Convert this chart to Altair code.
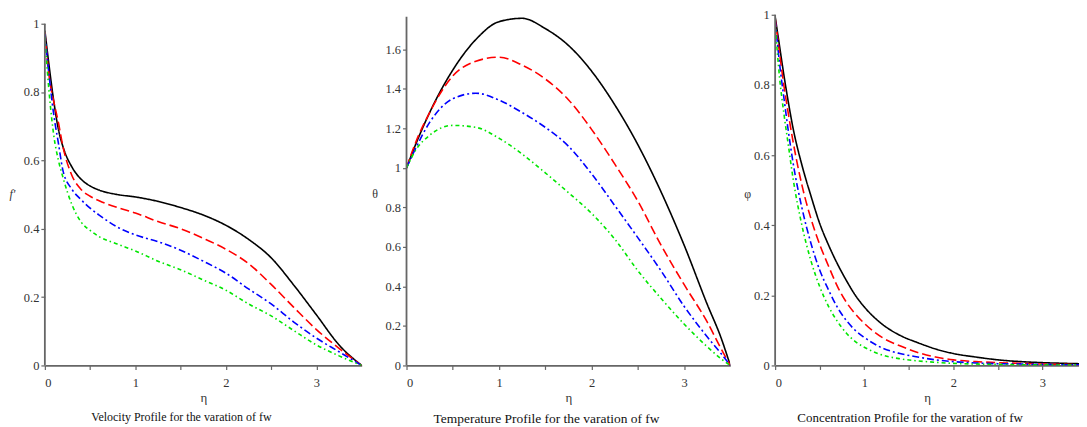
import altair as alt
import pandas as pd

SERIES = ["fw1", "fw2", "fw3", "fw4"]
COLORS = ["#000000", "#ff0000", "#0000ff", "#00e600"]
DASHES = [[1, 0], [9, 4], [7, 3, 2, 3], [4, 3, 1.5, 3]]

# Velocity profile f'
eta_v = [0, 0.05, 0.1, 0.15, 0.2, 0.3, 0.4, 0.5, 0.6, 0.8, 1.0, 1.25, 1.5, 1.75, 2.0, 2.25, 2.5, 2.75, 3.0, 3.25, 3.5]
vel_black = [0.98, 0.87, 0.77, 0.69, 0.64, 0.58, 0.545, 0.525, 0.513, 0.50, 0.493, 0.48, 0.462, 0.44, 0.41, 0.369, 0.315, 0.235, 0.148, 0.06, 0.0]
vel_red = [0.975, 0.84, 0.77, 0.71, 0.64, 0.555, 0.515, 0.495, 0.482, 0.462, 0.446, 0.421, 0.40, 0.372, 0.34, 0.298, 0.237, 0.17, 0.105, 0.05, 0.0]
vel_blue = [0.97, 0.84, 0.73, 0.65, 0.57, 0.515, 0.485, 0.46, 0.44, 0.405, 0.382, 0.362, 0.337, 0.305, 0.27, 0.224, 0.18, 0.127, 0.08, 0.04, 0.0]
vel_green = [0.96, 0.79, 0.67, 0.60, 0.55, 0.47, 0.42, 0.395, 0.377, 0.355, 0.335, 0.305, 0.28, 0.25, 0.22, 0.18, 0.145, 0.102, 0.06, 0.028, 0.0]

# Temperature profile theta
eta_t = [0, 0.1, 0.25, 0.5, 0.75, 1.0, 1.25, 1.5, 1.75, 2.0, 2.25, 2.5, 2.75, 3.0, 3.25, 3.4, 3.5]
tmp_black = [1.0, 1.12, 1.28, 1.495, 1.65, 1.74, 1.757, 1.705, 1.62, 1.49, 1.32, 1.118, 0.88, 0.61, 0.31, 0.14, 0.0]
tmp_red = [1.0, 1.13, 1.28, 1.465, 1.54, 1.56, 1.52, 1.45, 1.345, 1.195, 1.02, 0.832, 0.61, 0.41, 0.22, 0.085, 0.0]
tmp_blue = [1.0, 1.10, 1.23, 1.35, 1.378, 1.343, 1.28, 1.205, 1.11, 0.97, 0.81, 0.647, 0.48, 0.30, 0.145, 0.06, 0.0]
tmp_green = [1.0, 1.09, 1.165, 1.215, 1.205, 1.15, 1.07, 0.975, 0.875, 0.77, 0.64, 0.48, 0.34, 0.21, 0.095, 0.034, 0.0]

# Concentration profile phi
eta_c = [0, 0.05, 0.1, 0.15, 0.2, 0.3, 0.4, 0.5, 0.6, 0.7, 0.8, 0.9, 1.0, 1.2, 1.4, 1.6, 1.8, 2.0, 2.25, 2.5, 2.75, 3.0, 3.25, 3.41]
con_black = [0.995, 0.91, 0.825, 0.748, 0.678, 0.572, 0.485, 0.405, 0.343, 0.289, 0.242, 0.2, 0.167, 0.118, 0.086, 0.065, 0.047, 0.034, 0.024, 0.016, 0.011, 0.008, 0.006, 0.005]
con_red = [0.99, 0.89, 0.795, 0.715, 0.64, 0.515, 0.42, 0.345, 0.283, 0.225, 0.18, 0.147, 0.12, 0.08, 0.056, 0.037, 0.024, 0.016, 0.011, 0.008, 0.006, 0.004, 0.003, 0.002]
con_blue = [0.985, 0.86, 0.76, 0.665, 0.58, 0.45, 0.35, 0.272, 0.215, 0.165, 0.128, 0.1, 0.08, 0.05, 0.034, 0.024, 0.016, 0.011, 0.007, 0.005, 0.004, 0.003, 0.002, 0.002]
con_green = [0.975, 0.82, 0.715, 0.625, 0.535, 0.40, 0.30, 0.225, 0.168, 0.125, 0.092, 0.068, 0.052, 0.03, 0.019, 0.013, 0.009, 0.006, 0.004, 0.003, 0.002, 0.002, 0.001, 0.001]

CAPTIONS = [
    "Velocity Profile for the varation of fw",
    "Temperature Profile for the varation of fw",
    "Concentration Profile for the varation of fw",
]

FONT = "Liberation Serif"
AX = "#666666"
LAB = "#333333"
H = 352


def make_df(eta, cols):
    rows = []
    for s, ys in zip(SERIES, cols):
        for i, (e, v) in enumerate(zip(eta, ys)):
            rows.append({"eta": e, "v": v, "series": s, "i": i})
    return pd.DataFrame(rows)


def panel(eta, cols, ytitle, ytop, axis_top, yvals, xdom, xvals, width, caption, ytitle_x,
          italic=False, dx=-22, cap_size=12):
    df = make_df(eta, cols)
    yscale = alt.Scale(domain=[0, ytop], nice=False, zero=False)
    xscale = alt.Scale(domain=xdom, nice=False, zero=False)
    lines = alt.Chart(df).mark_line(strokeWidth=1.6, interpolate="monotone", clip=True).encode(
        x=alt.X("eta:Q", scale=xscale, axis=alt.Axis(
            values=xvals,
            labelExpr="datum.value % 1 == 0 ? format(datum.value, 'd') : ''",
            title="η", titleFont=FONT, titleFontSize=13, titleFontWeight="normal",
            titleColor="#333", titlePadding=3,
            labelFont=FONT, labelFontSize=12.5, labelColor=LAB, labelPadding=7,
            tickSize=4, tickColor=AX, tickWidth=1.2, domainColor=AX, domainWidth=1.8,
            grid=False)),
        y=alt.Y("v:Q", scale=yscale, axis=alt.Axis(
            values=yvals,
            labelExpr="abs(round(datum.value*10) % 2) == 0 ? format(datum.value, '~g') : ''",
            title=ytitle, titleAngle=0, titleX=ytitle_x, titleY=179, titleAlign="center",
            titleBaseline="middle", titleFont=FONT, titleFontSize=12, titleFontWeight="normal",
            titleFontStyle="italic" if italic else "normal", titleColor="#333",
            labelFont=FONT, labelFontSize=12.5, labelColor=LAB, labelPadding=2,
            tickSize=4, tickColor=AX, tickWidth=1.2, domain=False, grid=False)),
        color=alt.Color("series:N", scale=alt.Scale(domain=SERIES, range=COLORS), legend=None),
        strokeDash=alt.StrokeDash("series:N", scale=alt.Scale(domain=SERIES, range=DASHES), legend=None),
        order="i:Q",
    )
    rule = alt.Chart(pd.DataFrame({"v": [0.0], "v2": [axis_top]})).mark_rule(
        color=AX, strokeWidth=1.8).encode(
        x=alt.value(0),
        y=alt.Y("v:Q", scale=yscale),
        y2="v2:Q",
    )
    return alt.layer(lines, rule).properties(
        width=width, height=H,
        title=alt.TitleParams(caption, orient="bottom", anchor="middle", dx=dx, offset=7,
                              font=FONT, fontSize=cap_size, fontWeight="normal", color="#111"),
    )


xv = [0, 0.5, 1, 1.5, 2, 2.5, 3]
y10 = [round(i * 0.1, 1) for i in range(11)]
y17 = [round(i * 0.1, 1) for i in range(18)]

p1 = panel(eta_v, [vel_black, vel_red, vel_blue, vel_green], "f'", 1.026, 1.0, y10,
           [0, 3.5], xv, 318, CAPTIONS[0], -33, italic=True, dx=-22, cap_size=12)
p2 = panel(eta_t, [tmp_black, tmp_red, tmp_blue, tmp_green], "θ", 1.775, 1.765, y17,
           [0, 3.5], xv, 325, CAPTIONS[1], -32, dx=-22, cap_size=13.5)
p3 = panel(eta_c, [con_black, con_red, con_blue, con_green], "φ", 1.0, 1.0, y10,
           [0, 3.41], xv, 305, CAPTIONS[2], -28, dx=-17, cap_size=13)

chart = alt.hconcat(p1, p2, p3, spacing=45, bounds="flush").properties(
    padding={"left": 1, "top": 0, "right": 0, "bottom": 0}
).configure_view(strokeWidth=0)

chart.save("out.html", embed_options={"renderer": "svg", "actions": False})
